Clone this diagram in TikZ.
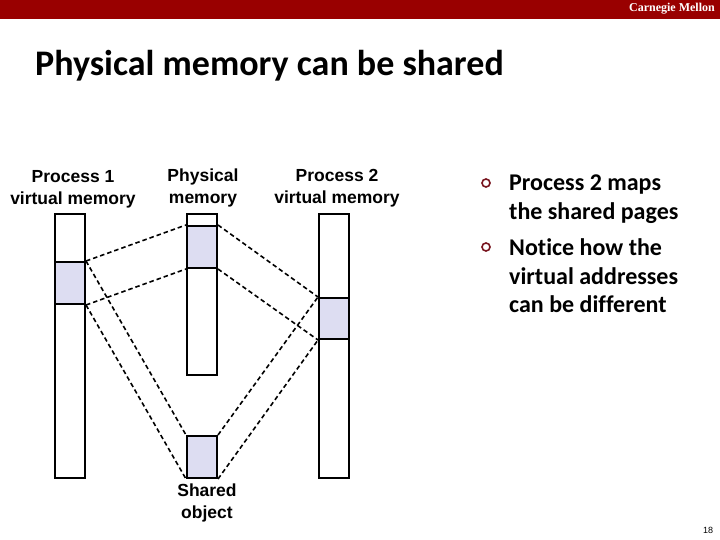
\documentclass[tikz,border=0pt]{standalone}
\usepackage{fontspec}
\setmainfont{Liberation Sans}
\newfontfamily\calib[Ligatures=NoCommon]{Carlito}
\newfontfamily\timesf{Liberation Serif}
\definecolor{cmured}{RGB}{153,0,0}
\definecolor{shade}{RGB}{221,221,242}
\definecolor{bulletred}{RGB}{120,20,30}
\begin{document}
\begin{tikzpicture}[x=1pt,y=-1pt,
  column/.style={draw=black,line width=2pt,fill=white,minimum width=30pt,inner sep=0pt,anchor=north west},
  page/.style={draw=black,line width=2pt,fill=shade,minimum width=30pt,inner sep=0pt,anchor=north west},
  label/.style={font=\fontsize{17.5}{22}\selectfont\bfseries,align=center,inner sep=0pt},
  map/.style={line width=1.6pt,dash pattern=on 4.5pt off 3pt},
  bul/.style={draw=bulletred,line width=1.6pt,circle,minimum size=8pt,inner sep=0pt},
  btext/.style={font=\calib\fontsize{24}{28.5}\selectfont\bfseries,align=left,anchor=west,inner sep=0pt}]
\useasboundingbox (0,0) rectangle (720,540);
\fill[white] (0,0) rectangle (720,540);
% top bar
\node[fill=cmured,minimum width=720pt,minimum height=19pt,anchor=north west,inner sep=0pt] (bar) at (0,0) {};
\node[text=white,font=\timesf\fontsize{12}{14}\selectfont\bfseries,anchor=east,inner sep=0pt] (cmu) at (715,9) {Carnegie Mellon};
% title
\node[font=\calib\fontsize{36}{40}\selectfont\bfseries,anchor=west,inner sep=0pt] (title) at (35,66) {Physical memory can be shared};
% columns
\node[column,minimum height=264pt] (p1) at (54,213) {};
\node[column,minimum height=161pt] (pm) at (186,213) {};
\node[column,minimum height=264pt] (p2) at (318,213) {};
% shaded pages
\node[page,minimum height=42pt] (p1s) at (54,261) {};
\node[page,minimum height=42pt] (pms) at (186,225) {};
\node[page,minimum height=41pt] (p2s) at (318,297) {};
\node[page,minimum height=42pt] (so) at (186,435) {};
% labels
\node[label] (l1) at (73,189) {Process 1\\virtual memory};
\node[label] (l2) at (203,188) {Physical\\memory};
\node[label] (l3) at (337,188) {Process 2\\virtual memory};
\node[label] (l4) at (207,503) {Shared\\object};
% mappings
\draw[map] (p1s.north east) -- (pms.north west);
\draw[map] (p1s.south east) -- (pms.south west);
\draw[map] (pms.north east) -- (p2s.north west);
\draw[map] (pms.south east) -- (p2s.south west);
\draw[map] (p1s.north east) -- (so.north west);
\draw[map] (p1s.south east) -- (so.south west);
\draw[map] (so.north east) -- (p2s.north west);
\draw[map] (so.south east) -- (p2s.south west);
% bullets
\node[bul] (b1) at (486,183) {};
\node[bul] (b2) at (486,247) {};
\node[btext] (t1) at (509,199) {Process 2 maps\\the shared pages};
\node[btext] (t2) at (509,276) {Notice how the\\virtual addresses\\can be different};
% page number
\node[font=\fontsize{9}{10}\selectfont,inner sep=0pt] (pg) at (708,530) {18};
\end{tikzpicture}
\end{document}
